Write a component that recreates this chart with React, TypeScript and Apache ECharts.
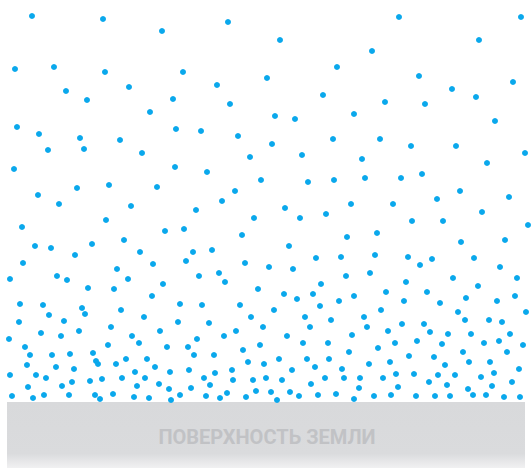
import React, { useEffect, useRef } from "react";
import * as echarts from "echarts";

// Particle positions: [horizontal position, depth below the top of the air column]
const upperAir: [number, number][] = [
  [32,16],[103,19],[162,31],[15,69],[54,67],[105,72],[129,87],[66,91],[87,100],[173,99],[150,112],[17,127],[39,134],[80,138],[176,129],[120,140],
  [228,22],[280,40],[183,72],[337,67],[267,78],[217,85],[323,95],[230,104],[275,116],[295,119],[354,114],[201,131],[238,136],[333,139],
  [399,17],[521,17],[479,40],[372,51],[419,76],[513,82],[452,89],[385,102],[425,104],[476,97],[495,121],[380,139],
];

const middleAir: [number, number][] = [
  [48,150],[84,149],[142,153],[14,169],[175,167],[77,188],[109,185],[157,187],[38,195],[59,204],[131,206],[22,227],[106,220],[165,231],[35,246],[51,248],[92,244],[124,240],[75,255],[140,252],[23,263],[153,264],[117,269],
  [272,144],[250,157],[302,155],[207,172],[261,180],[308,182],[334,180],[235,191],[222,201],[196,210],[285,208],[351,204],[254,218],[300,218],[326,214],[184,229],[242,235],[347,237],[289,246],[193,252],[212,250],[186,261],[245,263],[316,258],[341,257],[269,267],[293,269],[219,273],[199,276],[346,276],
  [411,146],[456,146],[525,153],[362,159],[487,163],[365,178],[401,178],[422,174],[460,191],[393,204],[437,199],[509,197],[482,212],[412,221],[443,221],[528,225],[377,233],[461,242],[505,240],[375,255],[408,257],[420,265],[432,259],[474,258],[500,267],[370,273],
];

const lowerAirLeft: [number, number][] = [
  [10,279],[57,276],[67,280],[128,279],[163,284],[88,288],[114,289],[152,296],[20,304],[43,305],[180,304],[49,315],[82,308],[85,314],[121,310],[144,317],[19,322],[64,321],[178,322],[41,333],[61,336],[79,331],[111,327],[160,331],[9,339],[25,347],[132,336],[139,343],[108,345],[167,347],[30,355],[52,355],[70,354],[93,353],[96,361],[98,364],[126,359],[147,359],[27,365],[56,367],[116,364],[74,369],[155,367],[10,375],[36,375],[46,378],[90,381],[102,379],[72,382],[122,378],[135,372],[145,378],[170,372],[28,387],[62,386],[137,386],[159,384],[169,389],[12,396],[33,398],[44,395],[69,395],[95,395],[100,399],[113,394],[134,397],[149,398],[171,400],[180,395],
];

const lowerAirCenter: [number, number][] = [
  [225,282],[321,284],[258,289],[284,294],[297,299],[313,294],[339,301],[354,296],[202,305],[240,305],[320,306],[274,310],[209,323],[251,317],[305,317],[331,320],[263,327],[310,327],[236,331],[224,336],[197,339],[287,336],[352,335],[188,347],[260,345],[303,343],[328,343],[194,355],[214,355],[243,350],[349,352],[279,359],[307,359],[329,359],[248,362],[264,364],[315,367],[189,370],[215,373],[232,370],[292,370],[342,369],[204,378],[233,380],[253,380],[266,378],[282,380],[325,378],[344,378],[191,388],[210,385],[311,384],[206,396],[220,398],[227,393],[246,397],[256,391],[271,392],[277,400],[290,392],[299,396],[318,395],[336,394],[354,399],
];

const lowerAirRight: [number, number][] = [
  [406,282],[453,278],[517,278],[478,286],[386,292],[427,292],[404,301],[440,303],[466,298],[497,301],[515,296],[381,310],[458,312],[526,312],[364,317],[367,327],[402,324],[424,324],[465,320],[489,320],[502,322],[388,331],[430,332],[448,334],[471,334],[510,334],[395,343],[417,341],[442,344],[484,343],[499,341],[523,345],[378,348],[409,356],[434,357],[463,352],[507,352],[369,364],[390,362],[445,365],[469,362],[490,362],[519,369],[360,378],[383,378],[396,374],[414,374],[438,375],[455,375],[481,377],[494,373],[429,382],[447,385],[359,388],[398,387],[468,389],[492,386],[512,382],[374,396],[391,395],[416,396],[435,396],[450,396],[473,395],[486,395],[504,397],[520,397],
];

const groundLabel = "ПОВЕРХНОСТЬ ЗЕМЛИ";

export default function App() {
  const ref = useRef<HTMLDivElement>(null);
  useEffect(() => {
    if (!ref.current) return;
    const chart = echarts.init(ref.current, null, { renderer: "svg" });
    const all = [...upperAir, ...middleAir, ...lowerAirLeft, ...lowerAirCenter, ...lowerAirRight];
    chart.setOption({
      animation: false,
      backgroundColor: "#ffffff",
      grid: { left: 0, top: 0, width: 531, height: 402, containLabel: false },
      xAxis: { type: "value", min: 0, max: 531, show: false },
      yAxis: { type: "value", min: 0, max: 402, inverse: true, show: false },
      graphic: [
        {
          type: "rect",
          left: 7,
          top: 402,
          shape: { width: 518, height: 66 },
          style: {
            fill: new echarts.graphic.LinearGradient(0, 0, 0, 1, [
              { offset: 0, color: "#d8d9db" },
              { offset: 0.78, color: "#dadbdd" },
              { offset: 1, color: "#f1f1f2" },
            ]),
          },
          z: 0,
        },
        {
          type: "text",
          x: 267,
          y: 437,
          style: {
            text: groundLabel,
            fill: "#c1c2c5",
            font: "bold 20px Roboto",
            align: "center",
            verticalAlign: "middle",
          },
          z: 1,
        },
      ],
      series: [
        {
          type: "scatter",
          data: all,
          symbolSize: 6,
          itemStyle: { color: "#0aa8ec", opacity: 1 },
          silent: true,
          z: 5,
        },
      ],
    });
    return () => chart.dispose();
  }, []);
  return (
    <div
      ref={ref}
      style={{ position: "absolute", left: 0, top: 0, width: 531, height: 468 }}
    />
  );
}
